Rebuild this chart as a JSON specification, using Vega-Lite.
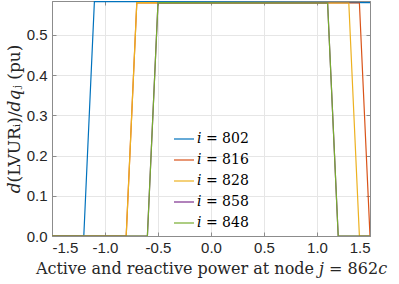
{
  "$schema": "https://vega.github.io/schema/vega-lite/v6.json",
  "width": 318,
  "height": 235,
  "autosize": {"type": "none"},
  "padding": {"left": 52, "top": 1, "right": 29, "bottom": 48},
  "background": "white",
  "config": {
    "view": {"stroke": "#8c8c8c", "strokeWidth": 1},
    "axis": {
      "labelFont": "Liberation Sans",
      "labelFontSize": 15,
      "labelColor": "#262626",
      "domainColor": "#8c8c8c",
      "tickColor": "#8c8c8c",
      "gridColor": "#e6e6e6",
      "tickSize": -4,
      "titleFont": "DejaVu Serif",
      "titleFontWeight": "normal",
      "titleFontSize": 16,
      "titleColor": "#262626"
    }
  },
  "data": {
    "values": [
      {"x": -1.5, "y": 0, "s": "802"},
      {"x": -1.2, "y": 0, "s": "802"},
      {"x": -1.1, "y": 0.583, "s": "802"},
      {"x": 1.5, "y": 0.580, "s": "802"},
      {"x": -1.5, "y": 0, "s": "816"},
      {"x": -0.8, "y": 0, "s": "816"},
      {"x": -0.7, "y": 0.580, "s": "816"},
      {"x": 1.4, "y": 0.579, "s": "816"},
      {"x": 1.5, "y": 0, "s": "816"},
      {"x": -1.5, "y": 0, "s": "828"},
      {"x": -0.8, "y": 0, "s": "828"},
      {"x": -0.7, "y": 0.580, "s": "828"},
      {"x": 1.3, "y": 0.579, "s": "828"},
      {"x": 1.4, "y": 0, "s": "828"},
      {"x": 1.5, "y": 0, "s": "828"},
      {"x": -1.5, "y": 0, "s": "858"},
      {"x": -0.6, "y": 0, "s": "858"},
      {"x": -0.5, "y": 0.580, "s": "858"},
      {"x": 1.1, "y": 0.579, "s": "858"},
      {"x": 1.2, "y": 0, "s": "858"},
      {"x": 1.5, "y": 0, "s": "858"},
      {"x": -1.5, "y": 0, "s": "848"},
      {"x": -0.6, "y": 0, "s": "848"},
      {"x": -0.5, "y": 0.580, "s": "848"},
      {"x": 1.1, "y": 0.579, "s": "848"},
      {"x": 1.2, "y": 0, "s": "848"},
      {"x": 1.5, "y": 0, "s": "848"}
    ]
  },
  "layer": [
    {
      "mark": {"type": "line", "strokeWidth": 1.2, "clip": true},
      "encoding": {
        "x": {
          "field": "x", "type": "quantitative",
          "scale": {"domain": [-1.5, 1.5], "nice": false, "zero": false},
          "axis": {
            "values": [-1.5, -1, -0.5, 0, 0.5, 1, 1.5],
            "labelExpr": "replace(datum.label, '−', '-')",
            "labelPadding": 8,
            "title": "Active and reactive power at node 𝑗 = 862𝑐",
            "titlePadding": 5
          }
        },
        "y": {
          "field": "y", "type": "quantitative",
          "scale": {"domain": [0, 0.584], "nice": false},
          "axis": {
            "values": [0, 0.1, 0.2, 0.3, 0.4, 0.5],
            "labelPadding": 9,
            "title": "𝑑(LVURᵢ)/𝑑𝑞ⱼ (pu)",
            "titleFontSize": 17,
            "titlePadding": 3
          }
        },
        "color": {
          "field": "s", "type": "nominal",
          "scale": {
            "domain": ["802", "816", "828", "858", "848"],
            "range": ["#0072BD", "#D95319", "#EDB120", "#7E2F8E", "#77AC30"]
          },
          "legend": {
            "orient": "none",
            "legendX": 121,
            "legendY": 127,
            "title": null,
            "symbolType": "stroke",
            "symbolSize": 400,
            "symbolStrokeWidth": 1.2,
            "rowPadding": 3,
            "labelFont": "DejaVu Serif",
            "labelFontSize": 14,
            "labelColor": "#000000",
            "labelOffset": 2,
            "labelExpr": "'𝑖 = ' + datum.label"
          }
        },
        "order": {"value": 0}
      }
    },
    {
      "mark": {"type": "point", "opacity": 0},
      "encoding": {
        "x": {
          "field": "x", "type": "quantitative",
          "scale": {"domain": [-1.5, 1.5], "nice": false, "zero": false},
          "axis": {"orient": "top", "values": [-1.5, -1, -0.5, 0, 0.5, 1, 1.5], "labels": false, "title": null, "grid": false}
        },
        "y": {
          "field": "y", "type": "quantitative",
          "scale": {"domain": [0, 0.584], "nice": false},
          "axis": {"orient": "right", "values": [0, 0.1, 0.2, 0.3, 0.4, 0.5], "labels": false, "title": null, "grid": false}
        }
      }
    }
  ],
  "resolve": {"axis": {"x": "independent", "y": "independent"}}
}
